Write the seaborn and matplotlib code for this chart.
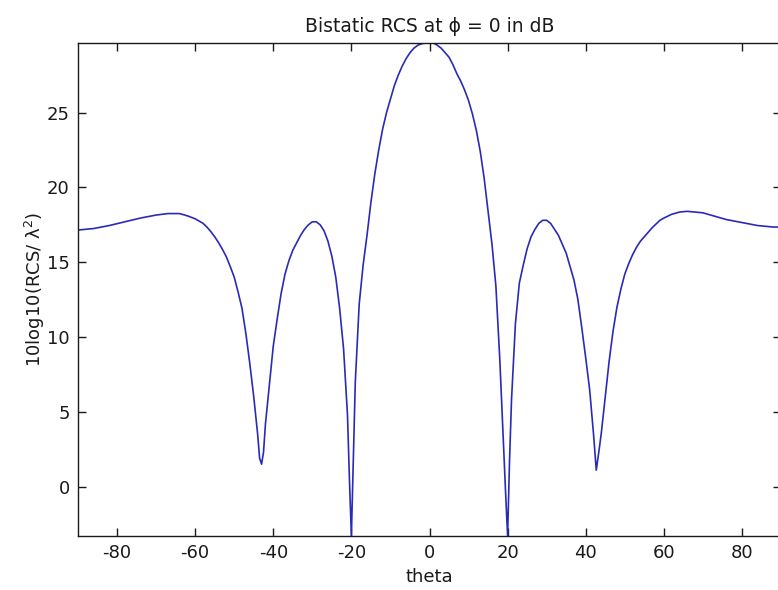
import numpy as np
import pandas as pd
import matplotlib
matplotlib.use("Agg")
import matplotlib.pyplot as plt
import seaborn as sns

theta = [-90, -86, -82, -78, -74, -70, -67, -64, -62, -60, -58, -57, -56, -55,
         -54, -53, -52, -51, -50, -49, -48, -47, -46, -45, -44, -43.5, -43,
         -42.5, -42, -41, -40, -39, -38, -37, -36, -35, -34, -33, -32, -31,
         -30, -29, -28, -27, -26, -25, -24, -23, -22, -21, -20.5, -20, -19.5,
         -19, -18, -17, -16, -15, -14, -13, -12, -11, -10, -9, -8, -7, -6, -5,
         -4, -3, -2, -1, 0, 1, 2, 3, 4, 5, 6, 7, 8, 9, 10, 11, 12, 13, 14, 15,
         16, 17, 18, 19, 19.5, 20, 20.5, 21, 22, 23, 24, 25, 26, 27, 28, 29,
         30, 31, 32, 33, 34, 35, 36, 37, 38, 39, 40, 41, 42, 42.7, 43.5, 44,
         45, 46, 47, 48, 49, 50, 51, 52, 53, 54, 55, 56, 57, 58, 59, 60, 62,
         64, 66, 68, 70, 72, 74, 76, 78, 80, 82, 84, 86, 88, 90]
rcs_db = [17.15, 17.25, 17.45, 17.7, 17.95, 18.15, 18.25, 18.25, 18.1, 17.9,
          17.6, 17.35, 17.05, 16.7, 16.3, 15.85, 15.35, 14.7, 14.0, 13.0, 11.9,
          10.2, 8.2, 6.0, 3.5, 1.9, 1.5, 2.3, 4.2, 6.8, 9.4, 11.2, 12.9, 14.2,
          15.1, 15.8, 16.3, 16.8, 17.2, 17.5, 17.7, 17.7, 17.5, 17.1, 16.4,
          15.4, 14.0, 11.9, 9.2, 4.8, 0.5, -3.3, 2.0, 7.0, 12.2, 14.8, 16.8,
          19.0, 20.9, 22.5, 23.9, 25.0, 25.9, 26.8, 27.5, 28.1, 28.6, 29.0,
          29.3, 29.5, 29.6, 29.65, 29.65, 29.65, 29.5, 29.3, 29.0, 28.7, 28.2,
          27.6, 27.1, 26.5, 25.8, 24.9, 23.8, 22.4, 20.6, 18.4, 16.2, 13.4,
          8.5, 2.5, -0.5, -3.3, 1.8, 5.8, 10.9, 13.6, 14.8, 15.9, 16.7, 17.2,
          17.6, 17.8, 17.8, 17.6, 17.2, 16.8, 16.2, 15.6, 14.7, 13.8, 12.5,
          10.6, 8.6, 6.5, 3.5, 1.1, 2.6, 3.6, 6.0, 8.4, 10.4, 12.0, 13.2, 14.2,
          14.9, 15.5, 16.0, 16.4, 16.7, 17.0, 17.3, 17.55, 17.8, 17.95, 18.2,
          18.35, 18.4, 18.35, 18.3, 18.15, 18.0, 17.85, 17.75, 17.65, 17.55,
          17.45, 17.4, 17.35, 17.35]

x_ticks = [-80, -60, -40, -20, 0, 20, 40, 60, 80]
y_ticks = [0, 5, 10, 15, 20, 25]

df = pd.DataFrame({"theta": theta, "rcs": rcs_db})

sns.set_style("ticks")
plt.rcParams["font.family"] = ["DejaVu Sans"]
plt.rcParams["mathtext.fontset"] = "dejavusans"

fig = plt.figure(figsize=(7.78, 5.90), dpi=100)
ax = fig.add_axes([78 / 778, 54 / 590, (781 - 78) / 778, (536 - 43) / 590])

sns.lineplot(data=df, x="theta", y="rcs", ax=ax, color="#2a2ab8",
             linewidth=1.2, sort=False)

ax.set_xlim(-90, 90)
ax.set_ylim(-3.3, 29.65)
ax.set_xticks(x_ticks)
ax.set_xticklabels([str(t) for t in x_ticks])
ax.set_yticks(y_ticks)
ax.set_yticklabels([str(t) for t in y_ticks])
ax.tick_params(direction="in", length=6, width=1.0, top=True, right=True,
               labelsize=13, colors="#1a1a1a", pad=6)
for s in ax.spines.values():
    s.set_visible(True)
    s.set_color("#1a1a1a")
    s.set_linewidth(1.0)

ax.set_xlabel("theta", fontsize=13, labelpad=4, color="#1a1a1a")
ax.set_ylabel("10log10(RCS/ λ$^2$)", fontsize=13, labelpad=0, color="#1a1a1a")
ax.set_title("Bistatic RCS at ϕ = 0 in dB", fontsize=13.5, pad=8, color="#1a1a1a")

fig.savefig("out.png", dpi=100)
